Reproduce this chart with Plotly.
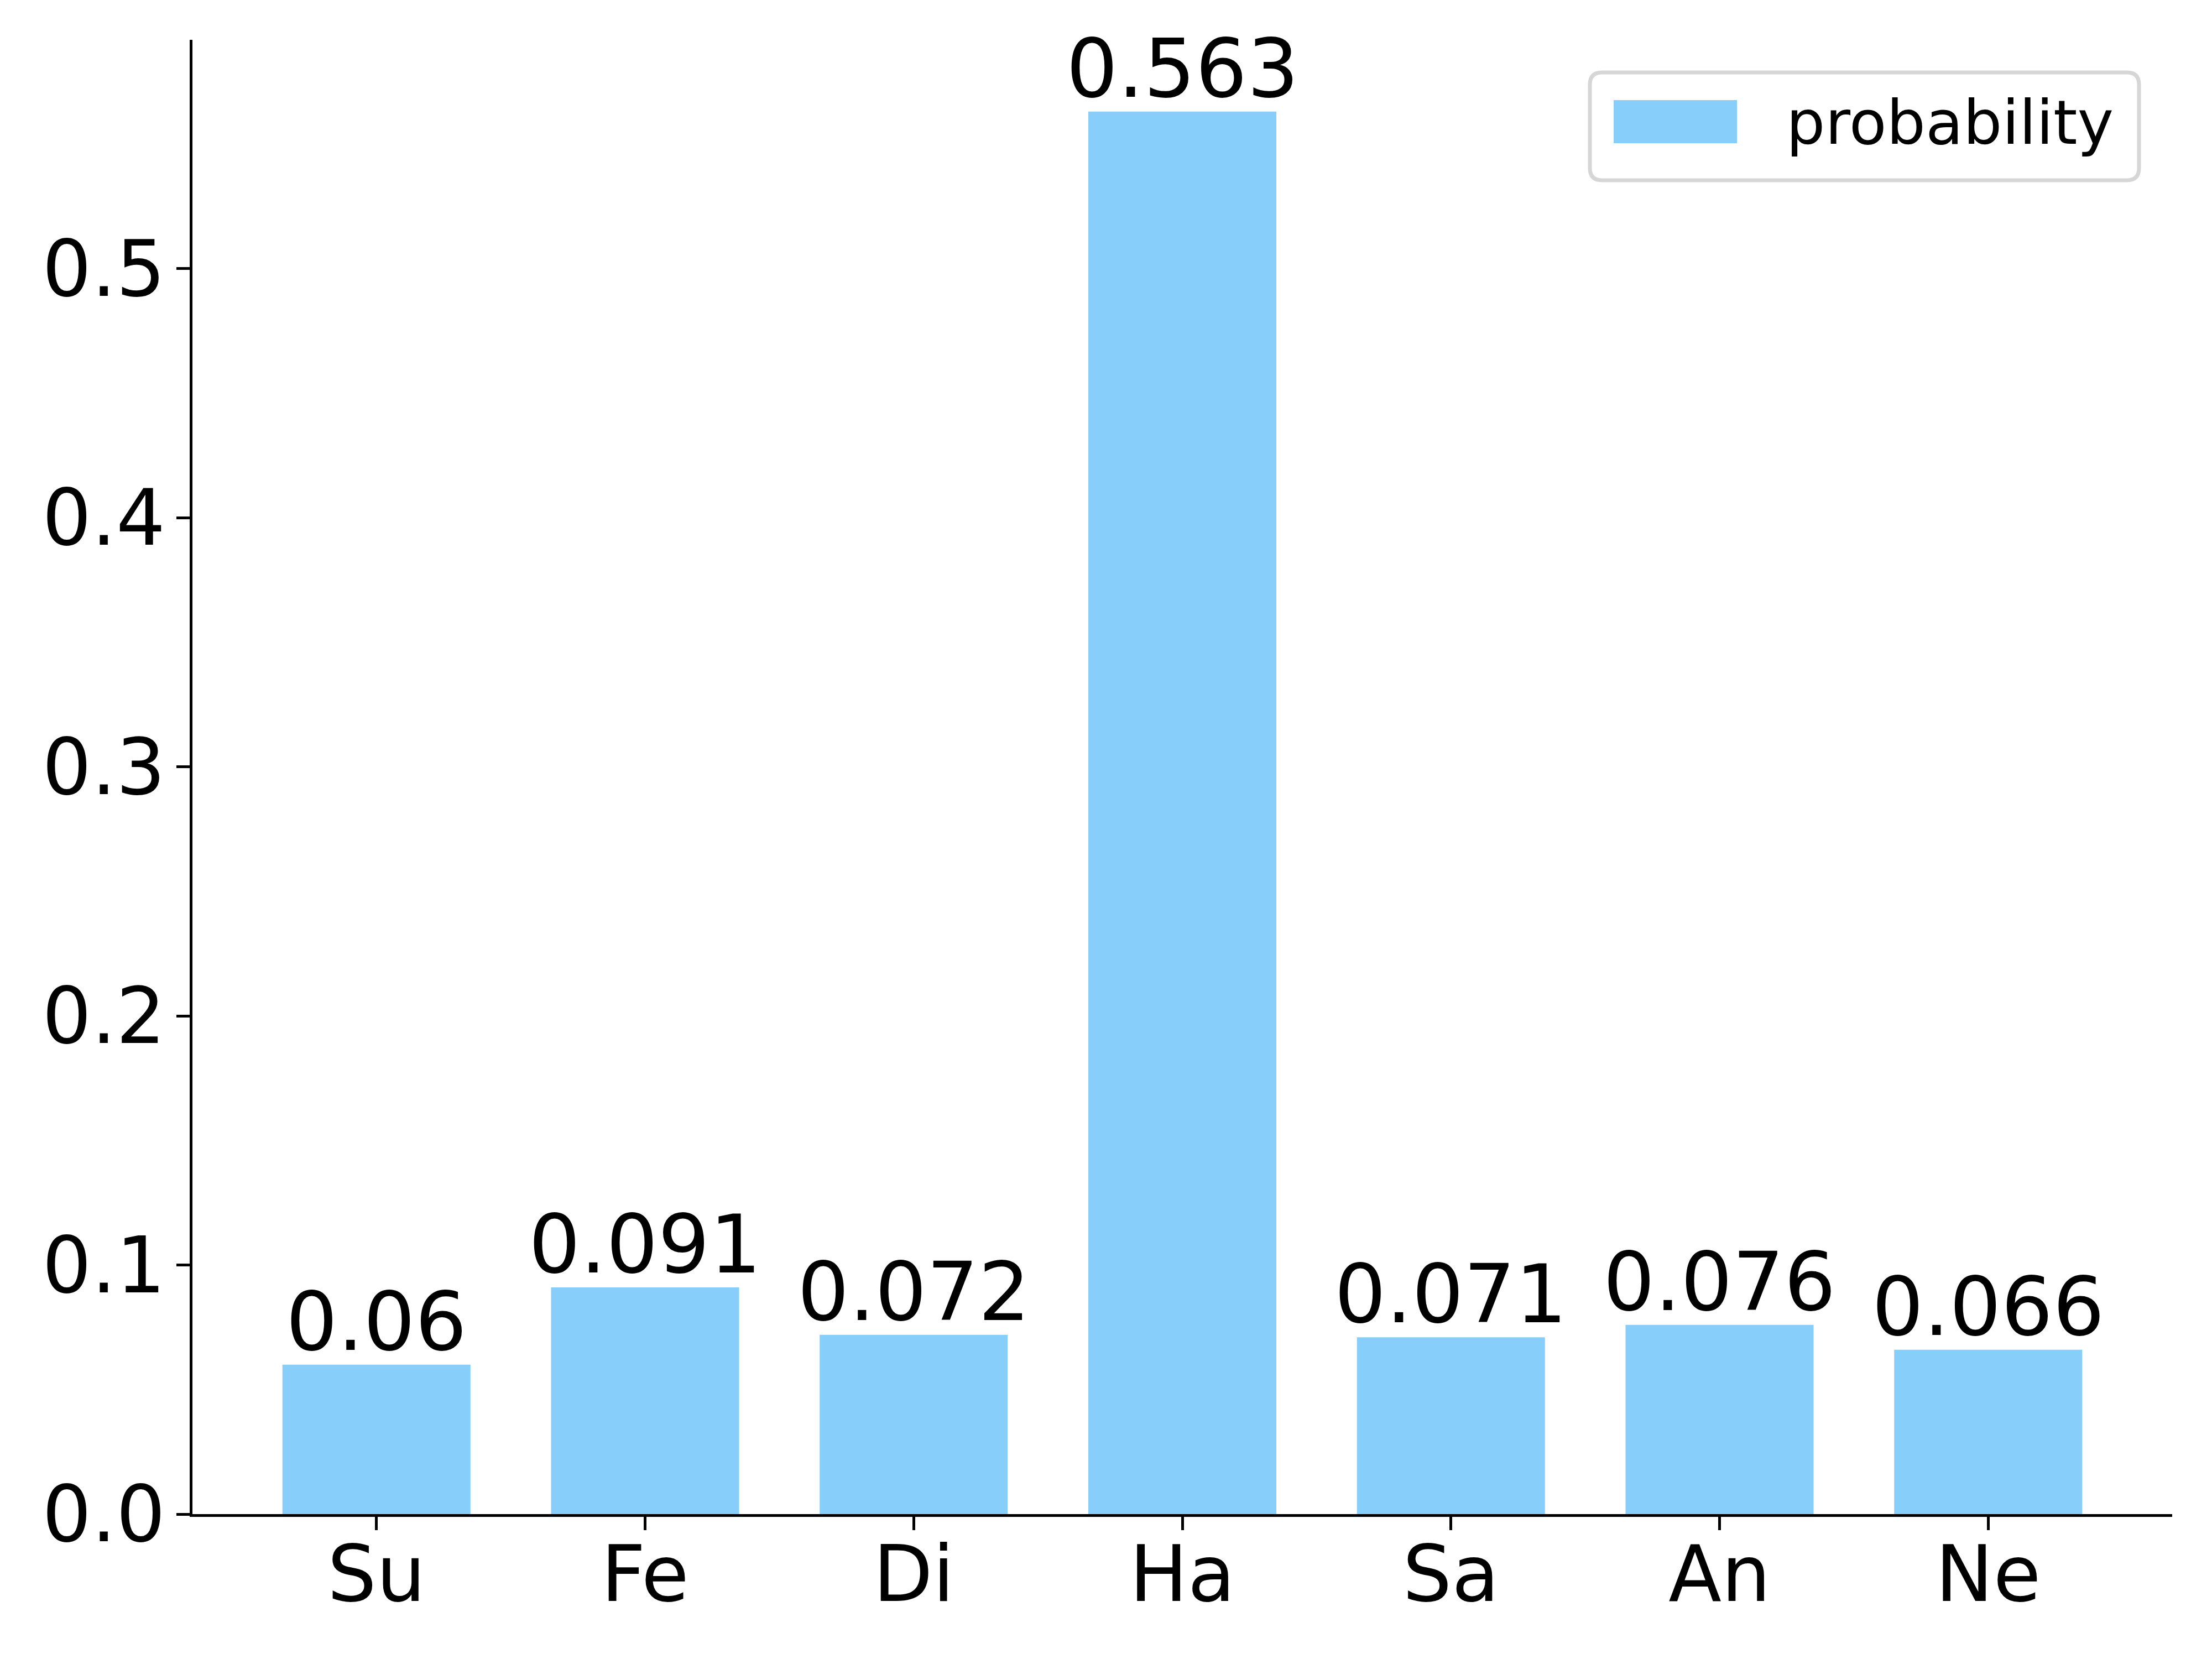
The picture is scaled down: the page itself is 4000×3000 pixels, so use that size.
import plotly.graph_objects as go

categories = ["Su", "Fe", "Di", "Ha", "Sa", "An", "Ne"]
values = [0.06, 0.091, 0.072, 0.563, 0.071, 0.076, 0.066]
labels = ["0.06", "0.091", "0.072", "0.563", "0.071", "0.076", "0.066"]
y_ticks = [0.0, 0.1, 0.2, 0.3, 0.4, 0.5]
series_name = "probability"

BAR_COLOR = "#87CEFA"
FONT = "DejaVu Sans"
W, H = 4000, 3000
OFF = 8  # page body margin shifts the figure by this much on screen
L, R, T, B = 348 - OFF, 72 + OFF, 72 - OFF, 262 + OFF
PW, PH = W - L - R, H - T - B

xs = list(range(len(categories)))

fig = go.Figure()
fig.add_trace(go.Bar(x=xs, y=values, width=0.7, marker=dict(color=BAR_COLOR, line=dict(width=0)),
                     name=series_name, showlegend=False))

for x, v, t in zip(xs, values, labels):
    fig.add_annotation(x=x, y=v, text=t, showarrow=False, xanchor="center", yanchor="bottom",
                       yshift=-10, font=dict(family=FONT, size=147, color="black"))

def px2paper(px, py):
    # px, py are target screen coordinates
    return (px - OFF - L) / PW, (H - B - (py - OFF)) / PH

# legend box (manual, matplotlib-style)
bx0, by0 = px2paper(2875, 326)
bx1, by1 = px2paper(3868, 131)
rx, ry = 22 / PW, 22 / PH
path = (f"M {bx0+rx},{by0} L {bx1-rx},{by0} Q {bx1},{by0} {bx1},{by0+ry} "
        f"L {bx1},{by1-ry} Q {bx1},{by1} {bx1-rx},{by1} L {bx0+rx},{by1} "
        f"Q {bx0},{by1} {bx0},{by1-ry} L {bx0},{by0+ry} Q {bx0},{by0} {bx0+rx},{by0} Z")
fig.add_shape(type="path", path=path, xref="paper", yref="paper",
              line=dict(color="#d6d6d6", width=7), fillcolor="rgba(255,255,255,0.8)")
hx0, hy0 = px2paper(2918, 259)
hx1, hy1 = px2paper(3141, 181)
fig.add_shape(type="rect", xref="paper", yref="paper", x0=hx0, y0=hy0, x1=hx1, y1=hy1,
              line=dict(width=0), fillcolor=BAR_COLOR)
tx, ty = px2paper(3228, 221)
fig.add_annotation(xref="paper", yref="paper", x=tx, y=ty, text=series_name, showarrow=False,
                   xanchor="left", yanchor="middle", font=dict(family=FONT, size=111, color="black"))

fig.update_layout(
    width=W, height=H,
    margin=dict(l=L, r=R, t=T, b=B, pad=0),
    plot_bgcolor="white", paper_bgcolor="white",
    font=dict(family=FONT, color="black"),
)
fig.update_xaxes(range=[-0.685, 6.685], tickmode="array", tickvals=xs, ticktext=categories,
                 showline=True, linecolor="black", linewidth=5, showgrid=False, zeroline=False,
                 ticks="outside", ticklen=24, tickwidth=5, tickcolor="black",
                 ticklabelstandoff=-40,
                 tickfont=dict(family=FONT, size=140, color="black"))
fig.update_yaxes(range=[0, 0.5918], tickmode="array", tickvals=y_ticks,
                 ticktext=[f"{v:.1f}" for v in y_ticks],
                 showline=True, linecolor="black", linewidth=5, showgrid=False, zeroline=False,
                 ticks="outside", ticklen=24, tickwidth=5, tickcolor="black",
                 ticklabelstandoff=-8,
                 tickfont=dict(family=FONT, size=140, color="black"))

fig.write_html("out.html")
